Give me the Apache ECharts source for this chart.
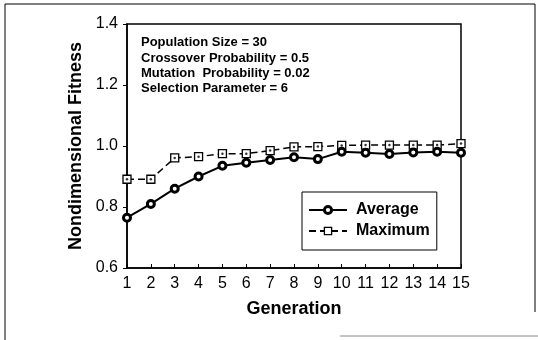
<!DOCTYPE html>
<html><head><meta charset="utf-8">
<script src="https://cdn.jsdelivr.net/npm/echarts@6/dist/echarts.min.js"></script>
<style>html,body{margin:0;padding:0;background:#fff}#c{width:538px;height:340px}</style>
</head><body><div id="c"></div>
<script>
var generations = [1,2,3,4,5,6,7,8,9,10,11,12,13,14,15];
var averageFitness = [0.765,0.81,0.86,0.90,0.935,0.945,0.954,0.963,0.957,0.981,0.978,0.974,0.979,0.981,0.978];
var maximumFitness = [0.891,0.891,0.961,0.965,0.975,0.975,0.985,0.997,0.998,1.002,1.003,1.003,1.003,1.003,1.008];
var yTicks = [0.6,0.8,1.0,1.2,1.4];
var annotationLines = ['Population Size = 30','Crossover Probability = 0.5','Mutation  Probability = 0.02','Selection Parameter = 6'];

var FONT = '"Liberation Sans", Arial, sans-serif';
function pairs(v){ return generations.map(function(g,i){ return [g, v[i]]; }); }

var chart = echarts.init(document.getElementById('c'), null, {renderer:'canvas'});
chart.setOption({
  animation:false,
  backgroundColor:'#fff',
  grid:{left:127, right:77, top:24, bottom:72, show:true, borderColor:'#000', borderWidth:1.5, backgroundColor:'transparent'},
  xAxis:{
    type:'value', min:1, max:15, interval:1,
    name:'Generation', nameLocation:'middle', nameGap:32,
    nameTextStyle:{fontFamily:FONT, fontWeight:'bold', fontSize:18, color:'#000'},
    axisLine:{lineStyle:{color:'#000', width:1.5}},
    axisTick:{inside:true, length:4, lineStyle:{color:'#000'}},
    axisLabel:{fontFamily:FONT, fontSize:16, color:'#000', margin:8},
    splitLine:{show:false}
  },
  yAxis:{
    type:'value', min:yTicks[0], max:yTicks[yTicks.length-1], interval:0.2,
    name:'Nondimensional Fitness', nameLocation:'middle', nameGap:42, nameRotate:90,
    nameTextStyle:{fontFamily:FONT, fontWeight:'bold', fontSize:18, color:'#000'},
    axisLine:{lineStyle:{color:'#000', width:1.5}},
    axisTick:{length:4, lineStyle:{color:'#000'}},
    axisLabel:{fontFamily:FONT, fontSize:16, color:'#000', margin:9, formatter:function(v){return v.toFixed(1);}},
    splitLine:{show:false}
  },
  legend:{
    data:[
      {name:'Average', itemStyle:{color:'#fff', borderColor:'#000', borderWidth:3}},
      {name:'Maximum', itemStyle:{color:'#fff', borderColor:'#000', borderWidth:1.3}}
    ],
    orient:'vertical', left:302, top:192,
    padding:[10,7,11,6], itemGap:5, itemWidth:38, itemHeight:9,
    borderColor:'#000', borderWidth:1, backgroundColor:'#fff',
    textStyle:{fontFamily:FONT, fontWeight:'bold', fontSize:16, lineHeight:16, color:'#000', padding:[0,0,0,4]}
  },
  graphic:[
    {type:'text', left:141, top:35, silent:true, style:{text:annotationLines.join('\n'), fontFamily:FONT, fontWeight:'bold', fontSize:13, lineHeight:15.4, fill:'#000'}},
    {type:'line', silent:true, shape:{x1:5,y1:4,x2:535,y2:4}, style:{stroke:'#000', lineWidth:1}},
    {type:'line', silent:true, shape:{x1:5,y1:4,x2:5,y2:340}, style:{stroke:'#000', lineWidth:1}},
    {type:'line', silent:true, shape:{x1:535,y1:4,x2:535,y2:312}, style:{stroke:'#000', lineWidth:1}},
    {type:'line', silent:true, shape:{x1:340,y1:336,x2:538,y2:336}, style:{stroke:'#888', lineWidth:1}}
  ],
  series:[
    {name:'Maximum', type:'line', data:pairs(maximumFitness), symbol:'rect', symbolSize:8,
     lineStyle:{color:'#000', width:1.5, type:[7,4]},
     itemStyle:{color:'#fff', borderColor:'#000', borderWidth:1.3}, z:2},
    {name:'MaxDot', type:'scatter', data:pairs(maximumFitness), symbol:'circle', symbolSize:2.5,
     itemStyle:{color:'#000'}, silent:true, z:3},
    {name:'Average', type:'line', data:pairs(averageFitness), symbol:'circle', symbolSize:7,
     lineStyle:{color:'#000', width:2},
     itemStyle:{color:'#fff', borderColor:'#000', borderWidth:3}, z:4}
  ]
});
</script></body></html>
